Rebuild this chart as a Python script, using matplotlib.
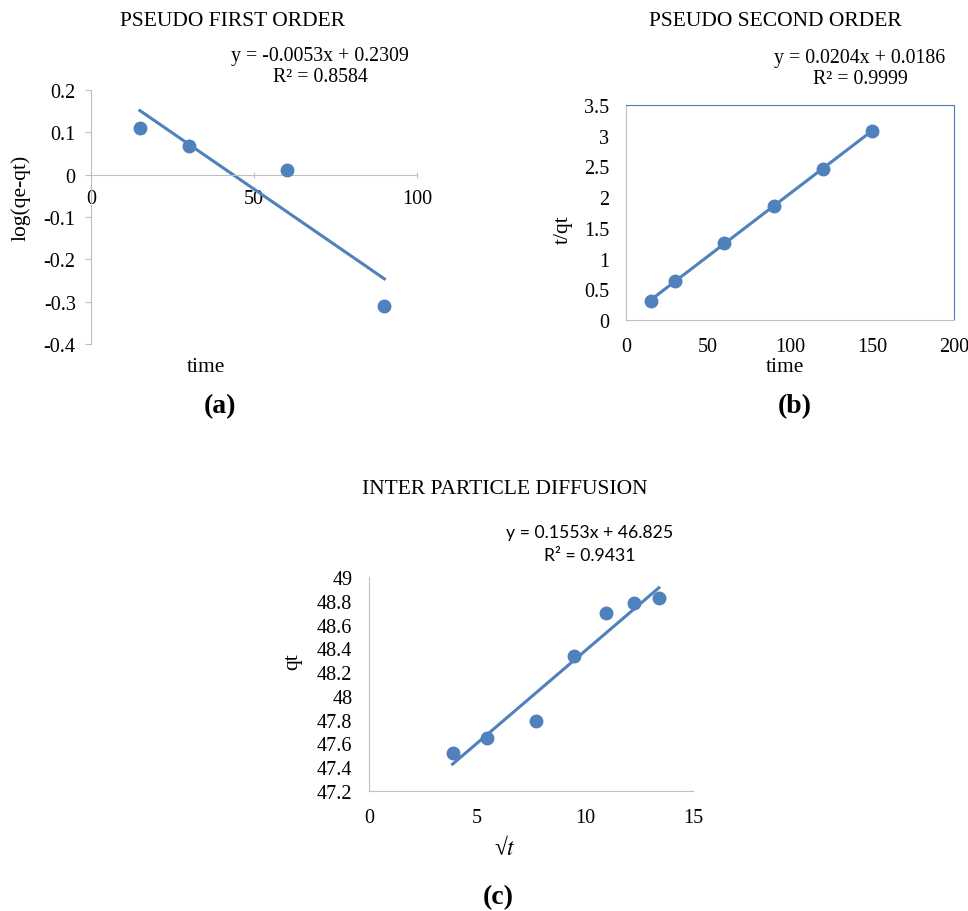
import matplotlib
matplotlib.use("Agg")
import matplotlib.pyplot as plt
import numpy as np

plt.rcParams['font.family'] = ['Liberation Serif', 'DejaVu Serif']
plt.rcParams['mathtext.fontset'] = 'stix'

# ---- data ----
t_a = [15, 30, 60, 90]
log_a = [0.111, 0.067, 0.011, -0.311]
slope_a, icpt_a = -0.0053, 0.2309

t_b = [15, 30, 60, 90, 120, 150]
tq_b = [0.314, 0.635, 1.258, 1.861, 2.463, 3.077]
slope_b, icpt_b = 0.0204, 0.0186

sqrt_c = [3.87, 5.48, 7.75, 9.49, 10.95, 12.25, 13.42]
qt_c = [47.523, 47.649, 47.789, 48.333, 48.70, 48.779, 48.823]
slope_c, icpt_c = 0.1553, 46.825

xticks_a = [0, 50, 100]
yticks_a = [-0.4, -0.3, -0.2, -0.1, 0, 0.1, 0.2]
yticklabels_a = ['-0.4', '-0.3', '-0.2', '-0.1', '0', '0.1', '0.2']
xticks_b = [0, 50, 100, 150, 200]
yticks_b = [0, 0.5, 1, 1.5, 2, 2.5, 3, 3.5]
yticklabels_b = ['0', '0.5', '1', '1.5', '2', '2.5', '3', '3.5']
xticks_c = [0, 5, 10, 15]
yticks_c = [47.2, 47.4, 47.6, 47.8, 48, 48.2, 48.4, 48.6, 48.8, 49]
yticklabels_c = ['47.2', '47.4', '47.6', '47.8', '48', '48.2', '48.4', '48.6', '48.8', '49']

BLUE = '#4f81bd'
GRAY = '#bfbfbf'
TFS = 15.5   # titles
FS = 14.5    # tick labels
EFS = 14.3   # equations
LFS = 15.5   # axis labels
PFS = 20     # panel letters

W, H = 968, 912
fig = plt.figure(figsize=(W / 100, H / 100), dpi=100)

def fx(px):
    return px / W

def fy(py):
    return 1 - py / H

def ftext(x, y, s, **kw):
    fig.text(fx(x), fy(y), s, ha='center', va='center', **kw)

# ---- panel (a) ----
ax = fig.add_axes([fx(91), fy(345), fx(417) - fx(91), fy(91) - fy(345)])
ax.set_xlim(0, 100)
ax.set_ylim(-0.4, 0.2)
for s in ['top', 'right']:
    ax.spines[s].set_visible(False)
ax.spines['bottom'].set_position(('data', 0))
ax.spines['bottom'].set_color(GRAY)
ax.spines['left'].set_color(GRAY)
ax.set_xticks(xticks_a)
ax.set_yticks(yticks_a)
ax.set_yticklabels(yticklabels_a)
ax.tick_params(axis='y', length=4, color=GRAY, labelsize=FS, pad=7)
ax.tick_params(axis='x', length=4, color=GRAY, labelsize=FS, pad=8, direction='inout')
xa = np.array([t_a[0], t_a[-1]])
ax.plot(xa, slope_a * xa + icpt_a, color=BLUE, lw=2.2, zorder=2)
ax.plot(t_a, log_a, 'o', color=BLUE, ms=9, zorder=3)
ftext(233, 22, 'PSEUDO FIRST ORDER', fontsize=TFS)
ftext(320, 57, 'y = -0.0053x + 0.2309', fontsize=EFS)
ftext(320, 78, 'R² = 0.8584', fontsize=EFS)
ftext(206, 367, 'time', fontsize=LFS)
ftext(21, 198, 'log(qe-qt)', fontsize=LFS, rotation=90)
ftext(220, 407, '(a)', fontsize=PFS, fontweight='bold')

# ---- panel (b) ----
ax = fig.add_axes([fx(626), fy(321), fx(954) - fx(626), fy(106) - fy(321)])
ax.set_xlim(0, 200)
ax.set_ylim(0, 3.5)
for s in ['top', 'right']:
    ax.spines[s].set_color('#4a7ebb')
for s in ['bottom', 'left']:
    ax.spines[s].set_color(GRAY)
ax.set_xticks(xticks_b)
ax.set_yticks(yticks_b)
ax.set_yticklabels(yticklabels_b)
ax.tick_params(axis='both', length=0, labelsize=FS)
ax.tick_params(axis='x', pad=12)
ax.tick_params(axis='y', pad=12)
xb = np.array([t_b[0], t_b[-1]])
ax.plot(xb, slope_b * xb + icpt_b, color=BLUE, lw=2.2, zorder=2)
ax.plot(t_b, tq_b, 'o', color=BLUE, ms=9, zorder=3)
ftext(775, 21, 'PSEUDO SECOND ORDER', fontsize=TFS)
ftext(860, 59, 'y = 0.0204x + 0.0186', fontsize=EFS)
ftext(860, 80, 'R² = 0.9999', fontsize=EFS)
ftext(785, 367, 'time', fontsize=LFS)
ftext(563, 230, 't/qt', fontsize=LFS, rotation=90)
ftext(795, 407, '(b)', fontsize=PFS, fontweight='bold')

# ---- panel (c) ----
ax = fig.add_axes([fx(369), fy(792), fx(693) - fx(369), fy(578) - fy(792)])
ax.set_xlim(0, 15)
ax.set_ylim(47.2, 49)
for s in ['top', 'right']:
    ax.spines[s].set_visible(False)
for s in ['bottom', 'left']:
    ax.spines[s].set_color(GRAY)
ax.set_xticks(xticks_c)
ax.set_yticks(yticks_c)
ax.set_yticklabels(yticklabels_c)
ax.tick_params(axis='both', length=0, labelsize=FS)
ax.tick_params(axis='x', pad=12)
ax.tick_params(axis='y', pad=12)
xc = np.array([sqrt_c[0], sqrt_c[-1]])
ax.plot(xc, slope_c * xc + icpt_c, color=BLUE, lw=2.2, zorder=2)
ax.plot(sqrt_c, qt_c, 'o', color=BLUE, ms=9, zorder=3)
ftext(505, 490, 'INTER PARTICLE DIFFUSION', fontsize=TFS)
ftext(590, 533, 'y = 0.1553x + 46.825', fontsize=12.7, family=['Lato', 'DejaVu Sans'])
ftext(590, 556, 'R² = 0.9431', fontsize=12.7, family=['Lato', 'DejaVu Sans'])
ftext(505, 848, r'√$t$', fontsize=17)
ftext(293, 662, 'qt', fontsize=LFS, rotation=90)
ftext(498, 898, '(c)', fontsize=PFS, fontweight='bold')

fig.savefig('out.png', dpi=100)
